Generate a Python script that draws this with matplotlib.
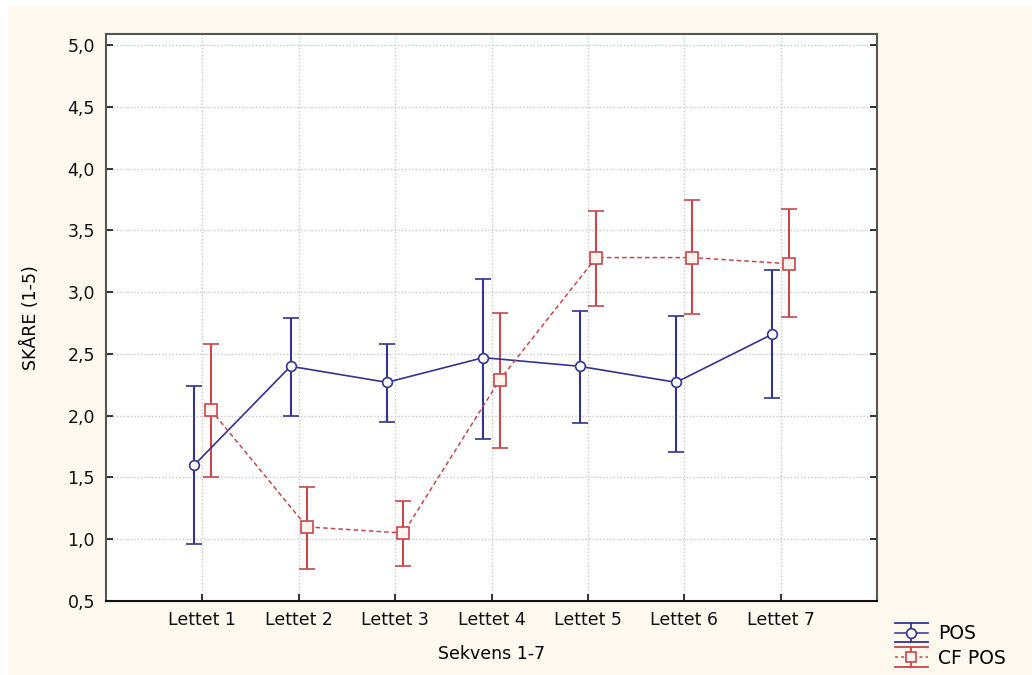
import numpy as np
import matplotlib.pyplot as plt
from matplotlib.patches import Rectangle
from matplotlib.lines import Line2D
from matplotlib.legend_handler import HandlerBase

# sequence categories
lettet = ['Lettet 1', 'Lettet 2', 'Lettet 3', 'Lettet 4', 'Lettet 5', 'Lettet 6', 'Lettet 7']

# POS: mean score with upper/lower limits of the interval
pos_mean = [1.60, 2.40, 2.27, 2.47, 2.40, 2.27, 2.66]
pos_hi = [2.24, 2.79, 2.58, 3.11, 2.85, 2.81, 3.18]
pos_lo = [0.96, 2.00, 1.95, 1.81, 1.94, 1.71, 2.14]

# CF POS
cf_mean = [2.05, 1.10, 1.05, 2.29, 3.28, 3.28, 3.23]
cf_hi = [2.58, 1.42, 1.31, 2.83, 3.66, 3.75, 3.67]
cf_lo = [1.50, 0.76, 0.78, 1.74, 2.89, 2.82, 2.80]

yticks = [0.5, 1.0, 1.5, 2.0, 2.5, 3.0, 3.5, 4.0, 4.5, 5.0]

blue = '#32348f'
red = '#c8474b'
bg = '#fdf9ef'


class WhiskerHandler(HandlerBase):
    # legend key: full-width caps above and below, vertical bar, line and marker in the middle
    def __init__(self, color, ls, marker, mfc):
        super().__init__()
        self.color, self.ls, self.marker, self.mfc = color, ls, marker, mfc

    def create_artists(self, legend, orig_handle, xdescent, ydescent, width, height,
                       fontsize, trans):
        x0, x1 = -xdescent, -xdescent + width
        xm = (x0 + x1) / 2
        y0, y1 = -ydescent - 1.5, -ydescent + height + 1.5
        ym = (y0 + y1) / 2
        arts = [
            Line2D([x0, x1], [y1, y1], color=self.color, lw=1.3),
            Line2D([x0, x1], [y0, y0], color=self.color, lw=1.3),
            Line2D([xm, xm], [y0, y1], color=self.color, lw=1.3),
            Line2D([x0, x1], [ym, ym], color=self.color, lw=1.1, ls=self.ls),
            Line2D([xm], [ym], marker=self.marker, ms=7, mfc=self.mfc, mec=self.color,
                   mew=1.2, ls='none'),
        ]
        for a in arts:
            a.set_transform(trans)
        return arts


plt.rcParams['font.family'] = ['DejaVu Sans']

fig = plt.figure(figsize=(10.32, 6.75), dpi=100, facecolor=bg)
# thin white border along the top and left edges
fig.patches.append(Rectangle((0, 1 - 6 / 675), 1, 6 / 675, transform=fig.transFigure,
                             facecolor='white', edgecolor='none', zorder=-1))
fig.patches.append(Rectangle((0, 0), 8 / 1032, 1, transform=fig.transFigure,
                             facecolor='white', edgecolor='none', zorder=-1))

ax = fig.add_axes([106 / 1032, 1 - 601 / 675, 771 / 1032, 567 / 675])
ax.set_facecolor('white')

x = np.arange(len(lettet))
off = 0.085

pm = np.array(pos_mean)
e_pos = [pm - np.array(pos_lo), np.array(pos_hi) - pm]
cm = np.array(cf_mean)
e_cf = [cm - np.array(cf_lo), np.array(cf_hi) - cm]

h1 = ax.errorbar(x - off, pm, yerr=e_pos, color=blue, lw=1.2, elinewidth=1.5,
                 capsize=6, capthick=1.5, marker='o', ms=7, mfc='white',
                 mec=blue, mew=1.2, zorder=3, label='POS')
h2 = ax.errorbar(x + off, cm, yerr=e_cf, color=red, lw=1.1, elinewidth=1.5,
                 capsize=6, capthick=1.5, marker='s', ms=8, mfc='#fdf3ee',
                 mec=red, mew=1.2, ls=(0, (3, 2)), zorder=3, label='CF POS')

ax.set_xlim(-1, len(lettet))
ax.set_ylim(0.5, 5.09)
ax.set_xticks(x)
ax.set_xticklabels(lettet)
ax.set_yticks(yticks)
ax.set_yticklabels([('%.1f' % v).replace('.', ',') for v in yticks])

ax.grid(True, color='#c8c8c8', ls=(0, (1, 1.5)), lw=1)
ax.set_axisbelow(True)
ax.tick_params(direction='in', length=5, width=1.2, labelsize=12.5, colors='#111111',
               right=True)
ax.tick_params(axis='y', pad=8)
ax.tick_params(axis='x', pad=7)
for s in ax.spines.values():
    s.set_color('#555555')
    s.set_linewidth(1.5)
ax.spines['bottom'].set_color('#111111')

ax.set_ylabel('SKÅRE (1-5)', fontsize=12.5, labelpad=20)
ax.set_xlabel('Sekvens 1-7', fontsize=12.5, labelpad=12)

fig.legend(handles=[h1, h2], loc='upper left', bbox_to_anchor=(895 / 1032, 1 - 624 / 675),
           frameon=False, fontsize=13.5, handlelength=1.75, handleheight=0.9,
           handletextpad=0.55, labelspacing=0.3, borderaxespad=0, borderpad=0,
           handler_map={h1: WhiskerHandler(blue, '-', 'o', 'white'),
                        h2: WhiskerHandler(red, (0, (2, 2)), 's', '#fdf3ee')})

fig.savefig('out.png', dpi=100, facecolor=bg)
